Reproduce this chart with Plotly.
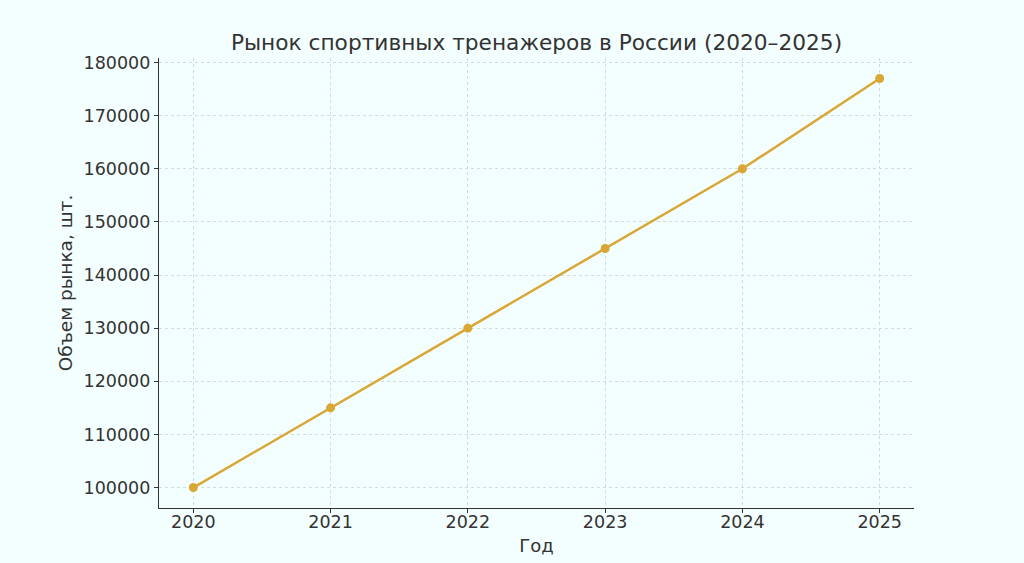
import plotly.graph_objects as go

years = [2020, 2021, 2022, 2023, 2024, 2025]
volume = [100000, 115000, 130000, 145000, 160000, 177000]
y_ticks = [100000, 110000, 120000, 130000, 140000, 150000, 160000, 170000, 180000]

bg = "#F3FEFE"
line_color = "#D8A735"
font = "DejaVu Sans"
txt = "#333333"
grid = "#D3DCDC"

fig = go.Figure()
fig.add_trace(go.Scatter(
    x=years, y=volume, mode="lines+markers",
    line=dict(color=line_color, width=2.5),
    marker=dict(color=line_color, size=9),
    showlegend=False,
))

fig.update_layout(
    width=1024, height=563,
    paper_bgcolor=bg, plot_bgcolor=bg,
    margin=dict(l=159, r=110, t=58, b=55),
    title=dict(text="Рынок спортивных тренажеров в России (2020–2025)",
               x=(159 + 914) / 2 / 1024, xanchor="center",
               y=1 - 42 / 563, yanchor="middle",
               font=dict(family=font, size=21.7, color=txt)),
    font=dict(family=font, size=17, color=txt),
)
fig.update_xaxes(
    range=[2019.75, 2025.25], tickmode="array", tickvals=years,
    ticktext=[str(y) for y in years], automargin=False,
    showline=True, linecolor="#333333", linewidth=1.2,
    ticks="outside", ticklen=4, tickcolor="#333333",
    ticklabelstandoff=-6,
    showgrid=True, gridcolor=grid, griddash="3px,3px", gridwidth=1,
    zeroline=False,
    title=dict(text="Год", font=dict(family=font, size=18, color=txt), standoff=8),
    tickfont=dict(family=font, size=17.5, color=txt),
)
fig.update_yaxes(
    range=[96150, 180850], tickmode="array", tickvals=y_ticks,
    ticktext=[str(v) for v in y_ticks], automargin=False,
    showline=True, linecolor="#333333", linewidth=1.2,
    ticks="outside", ticklen=4, tickcolor="#333333",
    showgrid=True, gridcolor=grid, griddash="3px,3px", gridwidth=1,
    zeroline=False,
    title=dict(text="Объем рынка, шт.", font=dict(family=font, size=18.5, color=txt), standoff=6),
    tickfont=dict(family=font, size=17.5, color=txt),
)

fig.write_html(
    "out.html",
    config={"displayModeBar": False},
    post_script="document.body.style.margin='0';document.body.style.overflow='hidden';"
                "document.body.style.background='" + bg + "';",
)
